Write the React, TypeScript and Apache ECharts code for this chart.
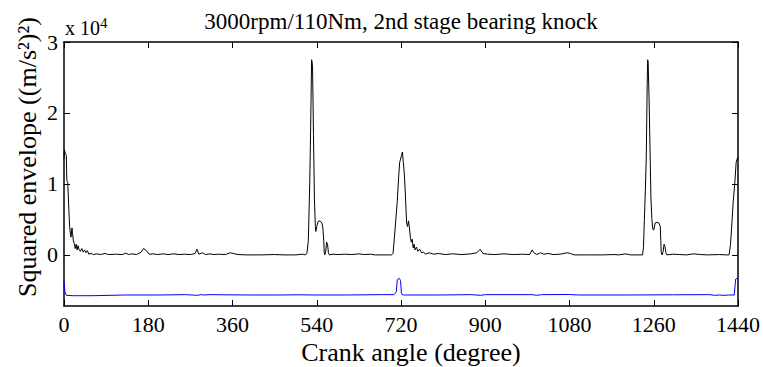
import React, { useEffect, useRef } from "react";
import * as echarts from "echarts";

const TITLE = "3000rpm/110Nm, 2nd stage bearing knock";
const X_NAME = "Crank angle (degree)";
const Y_NAME = "Squared envelope ((m/s²)²)";
const X_TICKS = [0, 180, 360, 540, 720, 900, 1080, 1260, 1440];
const Y_TICKS = [0, 10000, 20000, 30000];
const Y_SCALE = 10000;
const Y_MIN = -7200;
const Y_MAX = 30000;

// Squared envelope (black), [crank angle, value]
const envelope: [number, number][] = [
  [0, 13500], [1, 14800], [2, 14500], [3, 14300], [5, 14000], [6, 10500], [8, 10200], [10, 7000],
  [12, 4000], [14, 2800], [15, 2500], [17, 3800], [18, 3200], [20, 2000], [22, 1600], [24, 900],
  [26, 1500], [28, 700], [30, 1300], [32, 800], [35, 500], [38, 900], [41, 400], [44, 700],
  [47, 300], [50, 600], [53, 100], [58, 200], [63, 50], [70, 150], [78, 50], [88, 200],
  [95, 50], [110, 100], [125, 50], [132, 250], [138, 50], [145, 150], [155, 50], [165, 400],
  [170, 900], [176, 600], [182, 100], [190, 150], [200, 50], [212, 150], [222, 50], [235, 150],
  [245, 50], [258, 100], [270, 50], [280, 200], [284, 800], [288, 100], [296, 300], [302, 50],
  [312, 150], [320, 50], [330, 100], [345, 50], [355, 300], [362, 200], [372, 50], [390, 0],
  [420, 0], [450, 50], [470, 0], [495, 0], [510, 100], [515, 0], [519, 200], [522, 2000],
  [525, 10000], [527, 18000], [529, 27500], [530, 27200], [531, 26500], [533, 17000], [535, 8000],
  [537, 4000], [538, 3300], [540, 4000], [543, 4700], [547, 4800], [551, 4500], [553, 3800],
  [555, 2000], [556, 300], [557, 0], [559, 400], [561, 1800], [563, 1500], [565, 300], [567, 0],
  [575, 100], [585, 50], [600, 100], [615, 50], [630, 150], [640, 50], [655, 100], [665, 0],
  [690, 0], [700, 0], [703, 200], [706, 2500], [709, 5000], [712, 7500], [715, 11000],
  [717, 13000], [719, 13500], [721, 14000], [723, 14500], [725, 13000], [727, 11500], [729, 9000],
  [731, 6000], [732, 4500], [734, 4000], [736, 4800], [738, 3800], [740, 2500], [742, 1800],
  [744, 2200], [746, 1000], [748, 1500], [750, 700], [753, 1100], [756, 500], [760, 800],
  [764, 300], [768, 400], [772, 100], [780, 300], [790, 100], [800, 200], [815, 50], [830, 150],
  [850, 50], [870, 150], [882, 300], [889, 800], [895, 200], [905, 100], [920, 50], [940, 150],
  [960, 50], [980, 100], [995, 50], [1000, 700], [1004, 300], [1010, 50], [1018, 300],
  [1025, 100], [1035, 200], [1045, 50], [1060, 100], [1075, 300], [1082, 200], [1090, 0],
  [1120, 0], [1150, 0], [1175, 50], [1185, 0], [1200, 150], [1210, 0], [1236, 0], [1238, 1000],
  [1240, 5000], [1242, 9000], [1244, 13500], [1246, 24000], [1247, 27500], [1248, 27200],
  [1250, 22000], [1252, 15000], [1254, 8000], [1256, 5000], [1258, 3600], [1260, 3500],
  [1263, 4500], [1267, 4600], [1271, 4500], [1274, 4000], [1275, 2000], [1276, 300], [1278, 0],
  [1280, 500], [1282, 1500], [1284, 1200], [1286, 300], [1288, 0], [1300, 100], [1315, 50],
  [1330, 0], [1345, 150], [1360, 50], [1375, 0], [1400, 50], [1415, 0], [1421, 0], [1424, 1500],
  [1427, 4500], [1430, 7700], [1433, 10000], [1436, 13000], [1438, 13500], [1440, 13800],
];

// Offset reference trace (blue), [crank angle, value]
const reference: [number, number][] = [
  [0, -3800], [2, -5200], [5, -5700], [20, -5750], [60, -5750], [130, -5650], [200, -5650],
  [260, -5600], [285, -5700], [292, -5600], [300, -5650], [310, -5600], [340, -5620],
  [400, -5650], [460, -5650], [500, -5620], [540, -5650], [600, -5650], [680, -5600],
  [705, -5600], [710, -5200], [712, -3500], [716, -3300], [719, -3600], [721, -5500],
  [725, -5650], [800, -5650], [870, -5600], [890, -5700], [900, -5600], [1000, -5600],
  [1010, -5700], [1020, -5600], [1080, -5580], [1100, -5650], [1200, -5650], [1300, -5620],
  [1380, -5600], [1390, -5700], [1400, -5650], [1410, -5700], [1420, -5650], [1432, -5650],
  [1435, -3400], [1438, -3300], [1440, -3300],
];

const FONT = "Liberation Serif";

export default function App() {
  const ref = useRef<HTMLDivElement>(null);
  useEffect(() => {
    if (!ref.current) return;
    const chart = echarts.init(ref.current, undefined, { renderer: "svg" });
    const axisLine = { show: true, onZero: false, lineStyle: { color: "#000", width: 1.5 } };
    const tick = { show: true, inside: true, length: 6, lineStyle: { color: "#000", width: 1 } };
    chart.setOption({
      animation: false,
      backgroundColor: "#fff",
      grid: { left: 64, right: 25, top: 42, bottom: 61, containLabel: false },
      xAxis: [
        {
          type: "value", min: 0, max: 1440, interval: 180, position: "bottom",
          axisLine, axisTick: { ...tick, customValues: X_TICKS }, splitLine: { show: false },
          axisLabel: { show: false },
        },
        {
          type: "value", min: 0, max: 1440, interval: 180, position: "top",
          axisLine, axisTick: { ...tick, customValues: X_TICKS }, splitLine: { show: false }, axisLabel: { show: false },
        },
      ],
      yAxis: [
        {
          type: "value", min: Y_MIN, max: Y_MAX, position: "left",
          axisLine, splitLine: { show: false },
          axisTick: { ...tick, customValues: Y_TICKS },
          axisLabel: { show: false },
        },
        {
          type: "value", min: Y_MIN, max: Y_MAX, position: "right",
          axisLine, splitLine: { show: false },
          axisTick: { ...tick, customValues: Y_TICKS },
          axisLabel: { show: false },
        },
      ],
      series: [
        {
          type: "line", xAxisIndex: 0, yAxisIndex: 0, data: envelope, showSymbol: false,
          lineStyle: { color: "#000", width: 1 }, silent: true,
        },
        {
          type: "line", xAxisIndex: 0, yAxisIndex: 0, data: reference, showSymbol: false,
          lineStyle: { color: "#0000ff", width: 1 }, silent: true,
        },
      ],
    });

    // Tick labels placed through the chart's own axis scales
    const finder = { xAxisIndex: 0, yAxisIndex: 0 };
    const xLabels = X_TICKS.map((v) => {
      const p = chart.convertToPixel(finder, [v, Y_MIN]) as number[];
      return {
        type: "text", x: p[0], y: p[1] + 7,
        style: { text: String(v), fill: "#000", fontFamily: FONT, fontSize: 22, textAlign: "center", textVerticalAlign: "top" },
      };
    });
    const yLabels = Y_TICKS.map((v) => {
      const p = chart.convertToPixel(finder, [0, v]) as number[];
      return {
        type: "text", x: p[0] - 6, y: p[1],
        style: { text: String(v / Y_SCALE), fill: "#000", fontFamily: FONT, fontSize: 22, textAlign: "right", textVerticalAlign: "middle" },
      };
    });

    chart.setOption({
      graphic: [
        ...xLabels,
        ...yLabels,
        {
          type: "text", x: 401, y: 21,
          style: { text: TITLE, fill: "#000", fontFamily: FONT, fontSize: 23, textAlign: "center", textVerticalAlign: "middle" },
        },
        {
          type: "text", x: 411, y: 352,
          style: { text: X_NAME, fill: "#000", fontFamily: FONT, fontSize: 26, textAlign: "center", textVerticalAlign: "middle" },
        },
        {
          type: "text", x: 27, y: 157, rotation: Math.PI / 2,
          style: { text: Y_NAME, fill: "#000", fontFamily: FONT, fontSize: 26, textAlign: "center", textVerticalAlign: "middle" },
        },
        {
          type: "text", x: 65, y: 38,
          style: { text: "x 10", fill: "#000", fontFamily: FONT, fontSize: 20, textAlign: "left", textVerticalAlign: "bottom" },
        },
        {
          type: "text", x: 100, y: 30,
          style: { text: "4", fill: "#000", fontFamily: FONT, fontSize: 15, textAlign: "left", textVerticalAlign: "bottom" },
        },
      ],
    });
    return () => chart.dispose();
  }, []);
  return <div ref={ref} style={{ position: "fixed", left: 0, top: 0, width: 763, height: 367 }} />;
}
